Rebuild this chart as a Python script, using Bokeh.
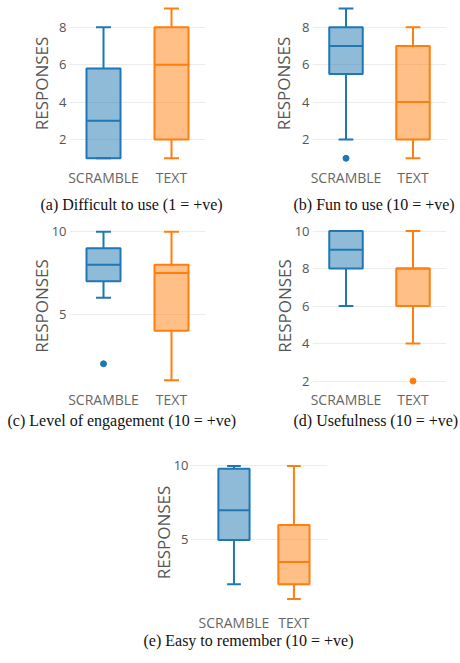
from bokeh.plotting import figure
from bokeh.models import Range1d, FixedTicker, Spacer
from bokeh.layouts import column, row
from bokeh.embed import file_html
from bokeh.resources import INLINE

categories = ["SCRAMBLE", "TEXT"]
colors = ["#1f77b4", "#ff7f0e"]

# (a) Difficult to use
a_lower = [1, 1]
a_q1 = [1, 2]
a_median = [3, 6]
a_q3 = [5.8, 8]
a_upper = [8, 9]
a_outliers = [[], []]
a_ticks = [2, 4, 6, 8]
a_caption = "(a) Difficult to use (1 = +ve)"

# (b) Fun to use
b_lower = [2, 1]
b_q1 = [5.5, 2]
b_median = [7, 4]
b_q3 = [8, 7]
b_upper = [9, 8]
b_outliers = [[1], []]
b_ticks = [2, 4, 6, 8]
b_caption = "(b) Fun to use (10 = +ve)"

# (c) Level of engagement
c_lower = [6, 1]
c_q1 = [7, 4]
c_median = [8, 7.5]
c_q3 = [9, 8]
c_upper = [10, 10]
c_outliers = [[2], []]
c_ticks = [5, 10]
c_caption = "(c) Level of engagement (10 = +ve)"

# (d) Usefulness
d_lower = [6, 4]
d_q1 = [8, 6]
d_median = [9, 8]
d_q3 = [10, 8]
d_upper = [10, 10]
d_outliers = [[], [2]]
d_ticks = [2, 4, 6, 8, 10]
d_caption = "(d) Usefulness (10 = +ve)"

# (e) Easy to remember
e_lower = [2, 1]
e_q1 = [5, 2]
e_median = [7, 3.5]
e_q3 = [9.8, 6]
e_upper = [10, 10]
e_outliers = [[], []]
e_ticks = [5, 10]
e_caption = "(e) Easy to remember (10 = +ve)"

AX_COLOR = "#555555"


def panel(lower, q1, med, q3, upper, outliers, ticks, caption, *, width, height,
          left, right, top, bottom, xr, yr, bw, label_standoff, tick_standoff,
          cat_standoff, title_standoff, title_offset):
    p = figure(width=width, height=height, x_range=Range1d(*xr), y_range=Range1d(*yr),
               output_backend="svg", toolbar_location=None,
               min_border_left=left, min_border_right=right,
               min_border_top=top, min_border_bottom=bottom,
               title=caption, title_location="below")
    p.outline_line_color = None
    p.background_fill_color = "white"
    p.border_fill_color = "white"
    xs = list(range(len(categories)))
    half = bw / 2
    cap = bw * 0.22
    for i, x in enumerate(xs):
        col = colors[i]
        # whiskers
        p.segment(x0=[x, x], y0=[q3[i], q1[i]], x1=[x, x], y1=[upper[i], lower[i]],
                  line_color=col, line_width=2)
        p.segment(x0=[x - cap, x - cap], y0=[upper[i], lower[i]],
                  x1=[x + cap, x + cap], y1=[upper[i], lower[i]],
                  line_color=col, line_width=2)
        # box
        p.vbar(x=[x], width=bw, bottom=[q1[i]], top=[q3[i]], fill_color=col,
               fill_alpha=0.5, line_color=col, line_width=2)
        # median
        p.segment(x0=[x - half], y0=[med[i]], x1=[x + half], y1=[med[i]],
                  line_color=col, line_width=2)
        if outliers[i]:
            p.scatter(x=[x] * len(outliers[i]), y=outliers[i], size=6,
                      fill_color=col, line_color=col)
    # x axis
    p.xaxis.ticker = FixedTicker(ticks=xs)
    p.xaxis.major_label_overrides = {x: c for x, c in zip(xs, categories)}
    p.xaxis.axis_line_color = None
    p.xaxis.major_tick_line_color = None
    p.xaxis.minor_tick_line_color = None
    p.xaxis.major_tick_out = 0
    p.xaxis.major_label_standoff = cat_standoff
    p.xaxis.major_label_text_font = "Open Sans"
    p.xaxis.major_label_text_font_size = "14px"
    p.xaxis.major_label_text_color = "#666666"
    # y axis
    p.yaxis.ticker = FixedTicker(ticks=ticks)
    p.yaxis.axis_line_color = None
    p.yaxis.major_tick_line_color = None
    p.yaxis.minor_tick_line_color = None
    p.yaxis.major_tick_out = 0
    p.yaxis.major_label_standoff = tick_standoff
    p.yaxis.major_label_text_font = "Open Sans"
    p.yaxis.major_label_text_font_size = "13px"
    p.yaxis.major_label_text_color = AX_COLOR
    p.yaxis.axis_label = "RESPONSES"
    p.yaxis.axis_label_text_font = "Open Sans"
    p.yaxis.axis_label_text_font_size = "17px"
    p.yaxis.axis_label_text_font_style = "normal"
    p.yaxis.axis_label_text_color = AX_COLOR
    p.yaxis.axis_label_standoff = label_standoff
    # grid
    p.xgrid.visible = False
    p.ygrid.ticker = FixedTicker(ticks=ticks)
    p.ygrid.grid_line_color = "#ececec"
    p.ygrid.grid_line_width = 1
    # caption
    p.title.text_font = "Liberation Serif"
    p.title.text_font_size = "16px"
    p.title.text_font_style = "normal"
    p.title.text_color = "#111111"
    p.title.align = "left"
    p.title.offset = title_offset
    p.title.standoff = title_standoff
    return p


pa = panel(a_lower, a_q1, a_median, a_q3, a_upper, a_outliers, a_ticks, a_caption,
           width=230, height=218, left=69, right=25, top=0, bottom=52,
           xr=(-0.5, 1.5), yr=(0.56, 9.43), bw=0.5, label_standoff=3, tick_standoff=3,
           cat_standoff=1, title_standoff=9, title_offset=-29)
pb = panel(b_lower, b_q1, b_median, b_q3, b_upper, b_outliers, b_ticks, b_caption,
           width=230, height=218, left=82, right=14, top=0, bottom=52,
           xr=(-0.5, 1.5), yr=(0.56, 9.43), bw=0.5, label_standoff=4, tick_standoff=3,
           cat_standoff=1, title_standoff=9, title_offset=-19)
pc = panel(c_lower, c_q1, c_median, c_q3, c_upper, c_outliers, c_ticks, c_caption,
           width=250, height=220, left=69, right=45, top=5, bottom=50,
           xr=(-0.5, 1.5), yr=(0.5, 10.5), bw=0.5, label_standoff=-4, tick_standoff=3,
           cat_standoff=1, title_standoff=-3, title_offset=-62)
pd_ = panel(d_lower, d_q1, d_median, d_q3, d_upper, d_outliers, d_ticks, d_caption,
            width=210, height=220, left=62, right=14, top=5, bottom=50,
            xr=(-0.5, 1.5), yr=(1.6, 10.4), bw=0.5, label_standoff=-4, tick_standoff=3,
            cat_standoff=1, title_standoff=-3, title_offset=-19)
pe = panel(e_lower, e_q1, e_median, e_q3, e_upper, e_outliers, e_ticks, e_caption,
           width=230, height=225, left=60, right=33, top=20, bottom=57,
           xr=(-0.725, 1.56), yr=(0.5, 10.5), bw=0.52, label_standoff=-4, tick_standoff=2,
           cat_standoff=6, title_standoff=-10, title_offset=-47)

layout = column(row(pa, pb), row(pc, pd_), row(Spacer(width=130, height=225), pe))

open("out.html", "w").write(file_html(layout, INLINE))
